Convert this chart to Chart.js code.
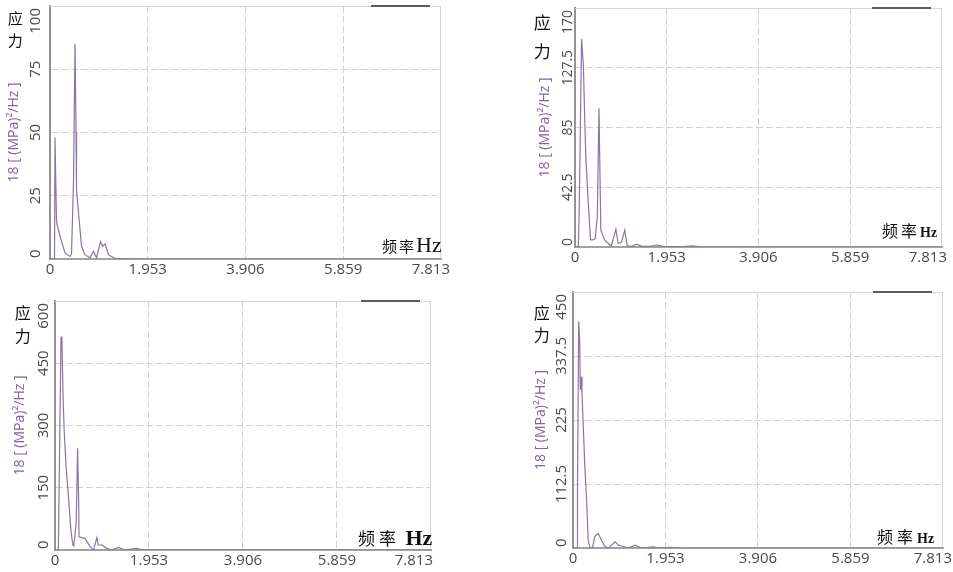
<!DOCTYPE html>
<html>
<head>
<meta charset="utf-8">
<script src="https://cdn.jsdelivr.net/npm/chart.js@4.4.1/dist/chart.umd.min.js"></script>
<style>
  body { margin: 0; background: #fff; }
  #wrap { position: relative; width: 953px; height: 572px; overflow: hidden; background: #fff; }
  #wrap canvas { position: absolute; }
  .ylab { position: absolute; width: 1.1em; text-align: center; color: #111;
          font-family: "Noto Sans CJK SC", serif; }
  .xlab { position: absolute; white-space: nowrap; color: #111; line-height: 1;
          font-family: "Noto Sans CJK SC", serif; }
  .xlab .hz { font-family: "Liberation Serif", "DejaVu Serif", serif; }
</style>
</head>
<body>
<div id="wrap">
  <canvas id="c1"></canvas>
  <canvas id="c2"></canvas>
  <canvas id="c3"></canvas>
  <canvas id="c4"></canvas>

  <div class="ylab" style="left:7px;top:7px;font-size:15px;line-height:22px;">应<br>力</div>
  <div class="ylab" style="left:533px;top:7px;font-size:17px;line-height:29px;">应<br>力</div>
  <div class="ylab" style="left:14px;top:301px;font-size:16px;line-height:23px;">应<br>力</div>
  <div class="ylab" style="left:533px;top:301px;font-size:16px;line-height:22px;">应<br>力</div>

  <div class="xlab" style="left:382px;top:234px;"><span style="font-size:15px;letter-spacing:2px;">频率</span><span class="hz" style="font-size:22px;">Hz</span></div>
  <div class="xlab" style="left:882px;top:222px;"><span style="font-size:16px;letter-spacing:3px;">频率</span><span class="hz" style="font-size:14px;font-weight:bold;">Hz</span></div>
  <div class="xlab" style="left:358px;top:527px;"><span style="font-size:17px;letter-spacing:4px;">频率</span><span class="hz" style="font-size:22px;font-weight:bold;"> Hz</span></div>
  <div class="xlab" style="left:877px;top:528px;"><span style="font-size:16px;letter-spacing:4px;">频率</span><span class="hz" style="font-size:14px;font-weight:bold;">Hz</span></div>
</div>

<script>
// x axis (frequency, Hz) shared by all four spectra
const xTicks = [0, 1.953, 3.906, 5.859, 7.813];

// y tick values per panel
const yTicks1 = [0, 25, 50, 75, 100];
const yTicks2 = [0, 42.5, 85, 127.5, 170];
const yTicks3 = [0, 150, 300, 450, 600];
const yTicks4 = [0, 112.5, 225, 337.5, 450];

// PSD traces
const freq1 = [0, 0.09, 0.1, 0.13, 0.21, 0.3, 0.4, 0.43, 0.47, 0.5, 0.52, 0.53, 0.58, 0.63, 0.7, 0.8, 0.87, 0.93, 1.01, 1.05, 1.1, 1.17, 1.23, 1.3, 1.6, 7.813];
const psd1  = [0, 0, 48, 14.7, 8.3, 2.4, 1, 2, 31, 85, 50, 27, 16, 5, 1.6, 0.5, 3, 0.5, 6.9, 5, 6, 1.6, 1, 0.3, 0, 0];

const freq2 = [0, 0.07, 0.09, 0.14, 0.18, 0.2, 0.23, 0.28, 0.33, 0.38, 0.43, 0.475, 0.51, 0.55, 0.63, 0.77, 0.87, 0.92, 0.99, 1.06, 1.11, 1.2, 1.31, 1.42, 1.58, 1.74, 1.88, 2.3, 2.5, 2.7, 7.813];
const psd2  = [0, 0, 26, 148, 128, 100, 64, 33, 5, 5, 6, 21.5, 98.6, 12, 5, 0.5, 12.6, 2.5, 3.5, 12, 1, 0.5, 2, 0.5, 0.5, 1.4, 0.5, 0.3, 0.8, 0, 0];

const freq3 = [0, 0.06, 0.07, 0.125, 0.145, 0.17, 0.19, 0.23, 0.28, 0.33, 0.37, 0.39, 0.44, 0.47, 0.49, 0.5, 0.55, 0.62, 0.73, 0.8, 0.87, 0.9, 0.98, 1.07, 1.18, 1.32, 1.45, 1.7, 1.84, 7.813];
const psd3  = [0, 0, 4, 514, 494, 361, 289, 201, 128, 48, 12, 10, 64, 245, 128, 32, 30, 28, 8, 0, 30, 12, 12, 4, 0, 6, 0, 4, 0, 0];

const freq4 = [0, 0.085, 0.095, 0.12, 0.14, 0.155, 0.17, 0.19, 0.25, 0.29, 0.32, 0.36, 0.41, 0.46, 0.53, 0.6, 0.67, 0.75, 0.89, 0.96, 1.03, 1.17, 1.31, 1.45, 1.7, 1.82, 2.08, 2.25, 7.813];
const psd4  = [0, 0, 110, 398, 368, 278, 301, 272, 143, 79, 14, 0, 0, 20, 26, 14, 3, 0, 11, 5, 3.5, 0, 5, 0, 2, 0, 1, 0, 0];

Chart.defaults.font.family = '"Open Sans", "DejaVu Sans", sans-serif';

// tick labels, frame edges and the small legend stub
const axisText = {
  id: 'axisText',
  beforeDatasetsDraw(chart) {
    const { ctx, chartArea: a } = chart;
    ctx.save();
    ctx.strokeStyle = '#d6d6d6';
    ctx.lineWidth = 1;
    ctx.beginPath();
    ctx.moveTo(a.left, a.top + 0.5);
    ctx.lineTo(a.right, a.top + 0.5);
    ctx.moveTo(a.right - 0.5, a.top);
    ctx.lineTo(a.right - 0.5, a.bottom);
    ctx.stroke();
    ctx.restore();
  },
  afterDraw(chart, args, o) {
    const { ctx, chartArea: a, scales: { x, y } } = chart;
    ctx.save();
    ctx.strokeStyle = '#5c5c5c';
    ctx.lineWidth = 2;
    ctx.beginPath();
    ctx.moveTo(a.right - 70, a.top);
    ctx.lineTo(a.right - 11, a.top);
    ctx.stroke();

    ctx.fillStyle = '#4a4a4a';
    ctx.textBaseline = 'middle';
    ctx.textAlign = 'center';
    ctx.font = o.xFont;
    x.ticks.forEach(t => {
      const w = ctx.measureText(t.label).width;
      const cx = Math.min(x.getPixelForValue(t.value), a.right + o.overhang - w / 2);
      ctx.fillText(t.label, cx, a.bottom + 11);
    });
    ctx.font = o.yFont;
    y.ticks.forEach(t => {
      const w = ctx.measureText(t.label).width;
      let cy = y.getPixelForValue(t.value);
      cy = Math.max(a.top + 2 + w / 2, Math.min(cy, a.bottom - 1 - w / 2));
      ctx.save();
      ctx.translate(a.left - o.yGap, cy);
      ctx.rotate(-Math.PI / 2);
      ctx.fillText(t.label, 0, 0);
      ctx.restore();
    });
    ctx.restore();
  }
};

function panel(id, freq, psd, yTicks, box, look) {
  const canvas = document.getElementById(id);
  const cl = box.l - 50, ct = box.t - 4;
  canvas.width = box.r - cl + 14;
  canvas.height = box.b - ct + 22;
  canvas.style.left = cl + 'px';
  canvas.style.top = ct + 'px';
  const yMax = yTicks[yTicks.length - 1];
  const gridColor = max => c => (c.tick && (c.tick.value === 0 || c.tick.value === max)) ? 'rgba(0,0,0,0)' : '#d2d2d2';

  return new Chart(canvas.getContext('2d'), {
    type: 'line',
    data: {
      datasets: [{
        data: freq.map((f, i) => ({ x: f, y: psd[i] })),
        borderColor: '#8a74a8',
        borderWidth: 1.2,
        pointRadius: 0,
        tension: 0,
        fill: false
      }]
    },
    options: {
      responsive: false,
      animation: false,
      events: [],
      layout: { padding: { left: 0, top: 4, right: 14, bottom: 22 } },
      plugins: {
        legend: { display: false },
        tooltip: { enabled: false },
        axisText: { xFont: '15px "Open Sans"', yFont: look.yFont, yGap: look.yGap, overhang: look.overhang }
      },
      scales: {
        x: {
          type: 'linear',
          min: 0,
          max: 7.813,
          afterBuildTicks: s => { s.ticks = xTicks.map(v => ({ value: v })); },
          ticks: { display: false, callback: v => String(v) },
          grid: { drawTicks: false, color: gridColor(7.813), lineWidth: 1 },
          border: { color: '#a2a2a2', width: 2, dash: [7, 3] }
        },
        y: {
          type: 'linear',
          min: 0,
          max: yMax,
          afterBuildTicks: s => { s.ticks = yTicks.map(v => ({ value: v })); },
          afterFit: s => { s.width = 50; },
          ticks: { display: false, callback: v => String(v) },
          grid: { drawTicks: false, color: gridColor(yMax), lineWidth: 1 },
          border: { color: '#929292', width: 2, dash: [7, 3] },
          title: {
            display: true,
            text: '18 [ (MPa)²/Hz ]',
            color: '#8460aa',
            font: { size: 14 },
            padding: { top: look.titlePad, bottom: 0 }
          }
        }
      }
    },
    plugins: [axisText]
  });
}

panel('c1', freq1, psd1, yTicks1, { l: 50, t: 6, r: 441, b: 259 },
  { yFont: '15px "Open Sans"', yGap: 14, overhang: 9, titlePad: 6 });
panel('c2', freq2, psd2, yTicks2, { l: 575, t: 8, r: 942, b: 247 },
  { yFont: '14px "Open Sans"', yGap: 7, overhang: 5, titlePad: 12 });
panel('c3', freq3, psd3, yTicks3, { l: 55, t: 301, r: 431, b: 550 },
  { yFont: '15px "Open Sans"', yGap: 11, overhang: 2, titlePad: 7 });
panel('c4', freq4, psd4, yTicks4, { l: 573, t: 292, r: 943, b: 548 },
  { yFont: '15px "Open Sans"', yGap: 11, overhang: 9, titlePad: 10 });
</script>
</body>
</html>
